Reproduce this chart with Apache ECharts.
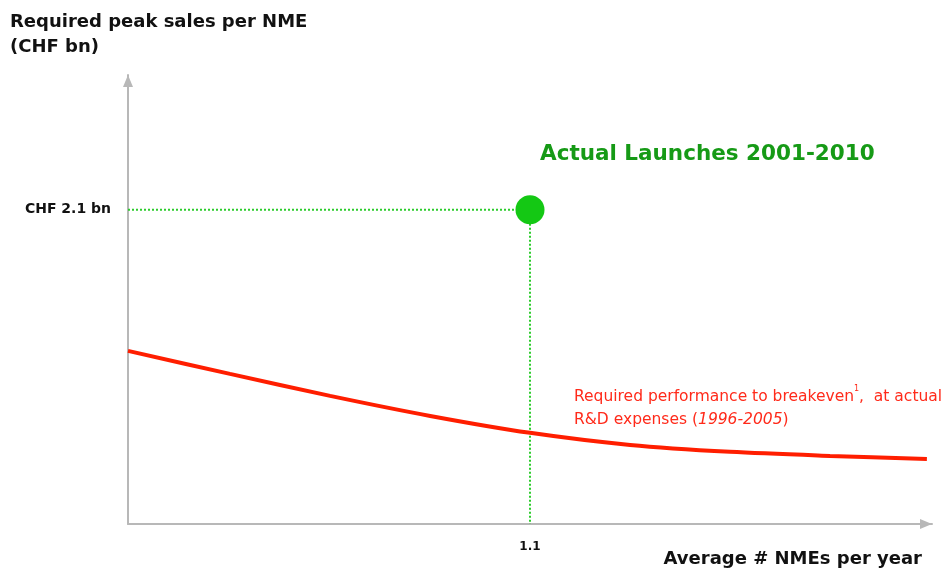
<!DOCTYPE html>
<html>
<head>
<meta charset="utf-8">
<script src="https://cdn.jsdelivr.net/npm/echarts@6/dist/echarts.min.js"></script>
<style>
  html, body { margin: 0; padding: 0; background: #fff; }
  #chart { width: 951px; height: 569px; }
</style>
</head>
<body>
<div id="chart"></div>
<script>
// Break-even curve: required peak sales per NME (CHF bn) vs. average NMEs per year
const curveX = [0, 0.279, 0.553, 0.827, 1.1, 1.374, 1.647, 1.921, 2.186];
const curveY = [1.157, 1.003, 0.856, 0.722, 0.609, 0.528, 0.482, 0.455, 0.435];

// Actual launches 2001-2010
const actualX = [1.1];
const actualY = [2.1];

// Tick labels shown on the axes
const xTickLabels = { '1.1': '1.1' };
const yTickLabels = { '2.1': 'CHF 2.1 bn' };

const FONT = '"DejaVu Sans", "Liberation Sans", Arial, sans-serif';

const chart = echarts.init(document.getElementById('chart'), null, { renderer: 'canvas' });

const curveData = curveX.map((x, i) => [x, curveY[i]]);
const pointData = actualX.map((x, i) => [x, actualY[i]]);
const guideData = [[0, actualY[0]], [actualX[0], actualY[0]], [actualX[0], 0]];

chart.setOption({
  animation: false,
  backgroundColor: '#ffffff',
  grid: { left: 128, right: 19, top: 75, bottom: 45, containLabel: false },
  xAxis: {
    type: 'value', min: 0, max: 2.2, interval: 1.1,
    axisLine: {
      show: true, symbol: ['none', 'triangle'], symbolSize: [10, 12], symbolOffset: [0, -6],
      lineStyle: { color: '#b8b8b8', width: 2 }
    },
    axisTick: { show: false },
    splitLine: { show: false },
    axisLabel: {
      margin: 17, color: '#111', fontFamily: FONT, fontWeight: 'bold', fontSize: 12,
      showMinLabel: true, showMaxLabel: true,
      formatter: v => xTickLabels[(+v).toFixed(1)] || ''
    }
  },
  yAxis: {
    type: 'value', min: 0, max: 3, interval: 2.1,
    axisLine: {
      show: true, symbol: ['none', 'triangle'], symbolSize: [10, 12], symbolOffset: [0, -6],
      lineStyle: { color: '#b8b8b8', width: 2 }
    },
    axisTick: { show: false },
    splitLine: { show: false },
    axisLabel: {
      margin: 17, color: '#111', fontFamily: FONT, fontWeight: 'bold', fontSize: 14,
      formatter: v => yTickLabels[(+v).toFixed(1)] || ''
    }
  },
  title: [
    {
      text: 'Required peak sales per NME\n(CHF bn)', left: 5, top: 5,
      textStyle: { fontFamily: FONT, fontWeight: 'bold', fontSize: 18, color: '#111', lineHeight: 25 }
    },
    {
      text: 'Average # NMEs per year', right: 24, top: 545,
      textStyle: { fontFamily: FONT, fontWeight: 'bold', fontSize: 18, color: '#111' }
    },
    {
      text: 'Actual Launches 2001-2010', left: 535, top: 138,
      textStyle: { fontFamily: FONT, fontWeight: 'bold', fontSize: 21.5, color: '#169a16' }
    }
  ],
  graphic: [
    {
      type: 'text', left: 574, top: 385, silent: true,
      style: {
        text: '{a|Required performance to breakeven}{s|1}{a|,  at actual}\n{a|R&D expenses (}{i|1996-2005}{a|)}',
        fill: '#ff2a1a',
        rich: {
          a: { fontFamily: FONT, fontSize: 15.5, fill: '#ff2a1a', lineHeight: 23 },
          s: { fontFamily: FONT, fontSize: 8, fill: '#ff2a1a', verticalAlign: 'top', lineHeight: 23, padding: [0, 0, 6, 0] },
          i: { fontFamily: FONT, fontSize: 15.5, fontStyle: 'italic', fill: '#ff2a1a', lineHeight: 23 }
        }
      }
    }
  ],
  series: [
    {
      type: 'line', data: guideData, symbol: 'none', silent: true,
      lineStyle: { color: '#2ccc2c', width: 2, type: [2, 2] },
      z: 2
    },
    {
      type: 'line', data: curveData, smooth: 0.3, symbol: 'none', silent: true,
      lineStyle: { color: '#ff1e00', width: 4 },
      z: 3
    },
    {
      type: 'scatter', data: pointData, symbol: 'circle', symbolSize: 29, silent: true,
      itemStyle: { color: '#14c814', opacity: 1 },
      z: 4
    }
  ]
});
</script>
</body>
</html>
